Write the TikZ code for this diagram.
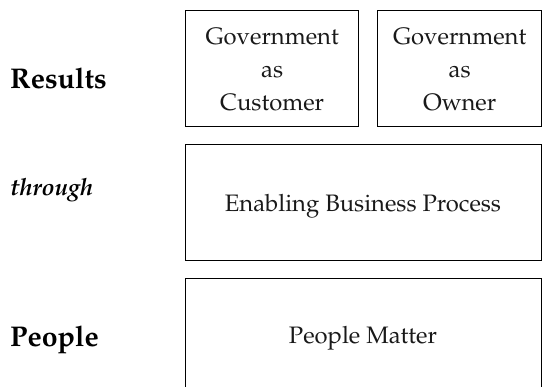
\documentclass[tikz,border=0pt]{standalone}
\usepackage[T1]{fontenc}
\usepackage{mathpazo}
\begin{document}
\begin{tikzpicture}[x=1pt,y=-1pt,
  box/.style={draw=black, line width=1.3pt, rectangle, inner sep=0pt, anchor=north west},
  boxtext/.style={font=\fontsize{23.8}{33}\selectfont, align=center, text=black!90, inner sep=0pt},
  side/.style={anchor=base west, inner sep=0pt}]
\useasboundingbox (0,0) rectangle (542,387);
\node[box, minimum width=173pt, minimum height=116pt] (cust) at (185,10) {};
\node[box, minimum width=164pt, minimum height=116pt] (own) at (377,10) {};
\node[box, minimum width=356pt, minimum height=116pt] (enab) at (185,144) {};
\node[box, minimum width=356pt, minimum height=130pt] (peop) at (185,278) {};
\node[boxtext] (custt) at ([yshift=-1pt]cust.center) {Government\\as\\Customer};
\node[boxtext] (ownt) at ([yshift=-1pt]own.center) {Government\\as\\Owner};
\node[boxtext, anchor=base] (enabt) at (363,212) {Enabling Business Process};
\node[boxtext, anchor=base] (peopt) at (363,344) {People Matter};
\node[side, font=\fontsize{28.5}{32}\selectfont\bfseries] (res) at (10,89) {Results};
\node[side, font=\fontsize{23.8}{28}\selectfont\itshape\bfseries] (thr) at (10,196) {through};
\node[side, font=\fontsize{28.5}{32}\selectfont\bfseries] (ppl) at (10,347) {People};
\end{tikzpicture}
\end{document}
